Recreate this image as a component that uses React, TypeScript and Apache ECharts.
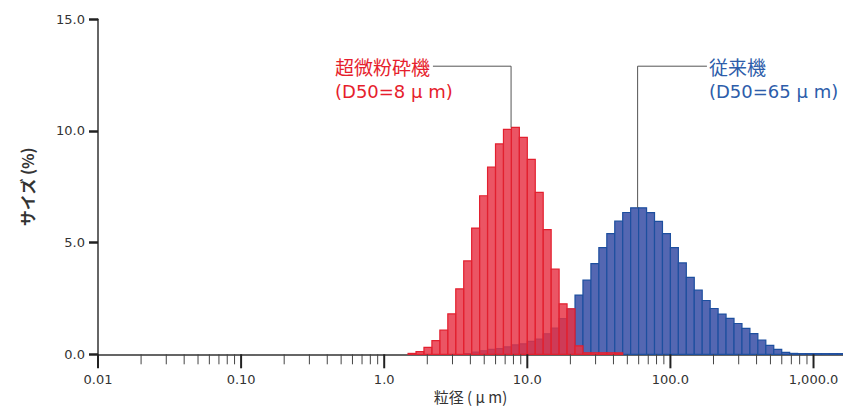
import React, { useEffect, useRef } from "react";
import * as echarts from "echarts";

// ---------------- data ----------------
// Particle-size channels: 18 log-spaced channels per decade;
// channel k spans 10^(k/18) … 10^((k+1)/18) µm.
const BINS_PER_DECADE = 18;

// 超微粉砕機 (ultra-fine mill) – frequency (%) per channel, starting at channel 3
const redFirstBin = 3;
const redValues = [
  0.04, 0.12, 0.31, 0.61, 1.08, 1.81, 2.93, 4.18, 5.65, 7.1, 8.38, 9.42, 10.07,
  10.16, 9.71, 8.73, 7.25, 5.58, 3.81, 2.26, 2.04, 0.38, 0.07, 0.07, 0.07, 0.07,
  0.06,
];

// 従来機 (conventional mill) – frequency (%) per channel, starting at channel 10
const blueFirstBin = 10;
const blueValues = [
  0.03, 0.1, 0.16, 0.22, 0.25, 0.33, 0.42, 0.47, 0.58, 0.68, 0.92, 1.17, 1.6,
  2.02, 2.65, 3.32, 4.06, 4.78, 5.4, 5.96, 6.35, 6.56, 6.56, 6.34, 5.95, 5.4,
  4.78, 4.09, 3.44, 2.87, 2.41, 2.05, 1.8, 1.61, 1.38, 1.16, 0.93, 0.64, 0.4,
  0.22, 0.09, 0.04, 0.03, 0.03, 0.03, 0.03, 0.03, 0.03,
];

const xMajorTicks = [0.01, 0.1, 1, 10, 100, 1000];
const xMajorLabels = ["0.01", "0.10", "1.0", "10.0", "100.0", "1,000.0"];
const xMinorTicks = [
  0.02, 0.03, 0.04, 0.05, 0.06, 0.07, 0.08, 0.09,
  0.2, 0.3, 0.4, 0.5, 0.6, 0.7, 0.8, 0.9,
  2, 3, 4, 5, 6, 7, 8, 9,
  20, 30, 40, 50, 60, 70, 80, 90,
  200, 300, 400, 500, 600, 700, 800, 900,
];
const xMin = 0.01;
const xMax = 1607;
const yMin = 0;
const yMax = 15;
const yInterval = 5;

const xAxisName = "粒径 ( μ m)";
const yAxisName = "サイズ (%)";

const annotTitles = ["超微粉砕機", "従来機"];
const annotD50 = ["(D50=8 μ m)", "(D50=65 μ m)"];

// ---------------- annotation anchors (axis units) ----------------
const annotLeaderUm = [7.7, 59];
const annotPeak = [Math.max(...redValues), Math.max(...blueValues)];
const annotElbow = [12.9, 12.9];
const annotLineEndUm = [2.19, 180];
const annotTextUm = [0.453, 186];

const RED_FILL = "rgba(231,50,69,0.83)";
const RED_STROKE = "#E2202F";
const BLUE_FILL = "#5467B2";
const BLUE_STROKE = "#1D4F9F";
const ANNOT_COLORS = ["#E61E2D", "#2D5DAA"];

const edge = (k: number) => Math.pow(10, k / BINS_PER_DECADE);

function barData(first: number, values: number[]) {
  return values.map((v, i) => [edge(first + i), edge(first + i + 1), v]);
}

function barRender(fill: string, stroke: string) {
  return (params: any, api: any) => {
    const lo = api.coord([api.value(0), 0]);
    const hi = api.coord([api.value(1), api.value(2)]);
    const cs = params.coordSys;
    const shape = echarts.graphic.clipRectByRect(
      { x: lo[0], y: hi[1], width: hi[0] - lo[0], height: lo[1] - hi[1] },
      { x: cs.x, y: cs.y, width: cs.width, height: cs.height }
    );
    if (!shape) return null;
    return {
      type: "rect",
      shape,
      style: { fill, stroke, lineWidth: 1.2 },
    };
  };
}

function tickRender(len: number, color: string, width: number) {
  return (_params: any, api: any) => {
    const p = api.coord([api.value(0), 0]);
    return {
      type: "line",
      shape: { x1: p[0], y1: p[1], x2: p[0], y2: p[1] + len },
      style: { stroke: color, lineWidth: width },
    };
  };
}

const CJK = "'Noto Sans CJK JP', 'Noto Sans', sans-serif";
const LATIN = "'DejaVu Sans', 'Noto Sans', sans-serif";

export default function App() {
  const ref = useRef<HTMLDivElement>(null);

  useEffect(() => {
    if (!ref.current) return;
    const chart = echarts.init(ref.current, null, { renderer: "svg" });

    const option: any = {
      animation: false,
      backgroundColor: "#ffffff",
      grid: {
        left: 98,
        right: 0,
        top: 19.3,
        bottom: 51.7,
        containLabel: false,
        outerBoundsMode: "none",
      },
      xAxis: {
        type: "log",
        logBase: 10,
        min: xMin,
        max: xMax,
        axisLine: { show: true, lineStyle: { color: "#333", width: 1.5 } },
        axisTick: { show: false },
        minorTick: { show: false },
        splitLine: { show: false },
        axisLabel: {
          interval: 0,
          margin: 19,
          fontSize: 13,
          color: "#333",
          fontFamily: LATIN,
          formatter: (v: number) => {
            for (let i = 0; i < xMajorTicks.length; i++) {
              if (Math.abs(v - xMajorTicks[i]) / xMajorTicks[i] < 1e-6) return xMajorLabels[i];
            }
            return "";
          },
        },
        name: xAxisName,
        nameLocation: "middle",
        nameGap: 35,
        nameMoveOverlap: false,
        nameTextStyle: { fontSize: 15, color: "#333", fontFamily: CJK },
      },
      yAxis: {
        type: "value",
        min: yMin,
        max: yMax,
        interval: yInterval,
        axisLine: { show: true, lineStyle: { color: "#333", width: 1.5 } },
        axisTick: { show: true, length: 9, lineStyle: { color: "#222", width: 2.5 } },
        splitLine: { show: false },
        axisLabel: {
          margin: 13,
          fontSize: 13,
          color: "#333",
          fontFamily: LATIN,
          formatter: (v: number) => v.toFixed(1),
        },
        name: yAxisName,
        nameLocation: "middle",
        nameGap: 63,
        nameMoveOverlap: false,
        nameTextStyle: { fontSize: 16, color: "#333", fontFamily: CJK, fontWeight: "bold" },
      },
      series: [
        {
          type: "custom",
          name: "従来機",
          silent: true,
          clip: false,
          z: 2,
          data: barData(blueFirstBin, blueValues),
          encode: { x: [0, 1], y: 2 },
          renderItem: barRender(BLUE_FILL, BLUE_STROKE),
        },
        {
          type: "custom",
          name: "超微粉砕機",
          silent: true,
          clip: false,
          z: 3,
          data: barData(redFirstBin, redValues),
          encode: { x: [0, 1], y: 2 },
          renderItem: barRender(RED_FILL, RED_STROKE),
        },
        {
          type: "custom",
          silent: true,
          clip: false,
          z: 5,
          data: xMinorTicks.map((v) => [v, 0]),
          encode: { x: 0, y: 1 },
          renderItem: tickRender(10, "#444", 1),
        },
        {
          type: "custom",
          silent: true,
          clip: false,
          z: 5,
          data: xMajorTicks.map((v) => [v, 0]),
          encode: { x: 0, y: 1 },
          renderItem: tickRender(14, "#222", 2),
        },
        {
          type: "custom",
          silent: true,
          clip: false,
          z: 6,
          data: annotTitles.map((_, i) => [
            annotLeaderUm[i],
            annotPeak[i],
            annotElbow[i],
            annotLineEndUm[i],
            annotTextUm[i],
          ]),
          encode: { x: 0, y: 1 },
          renderItem: (params: any, api: any) => {
            const i = params.dataIndex;
            const bottom = api.coord([api.value(0), api.value(1)]);
            const corner = api.coord([api.value(0), api.value(2)]);
            const start = api.coord([api.value(3), api.value(2)]);
            const txt = api.coord([api.value(4), api.value(2)]);
            const color = ANNOT_COLORS[i];
            return {
              type: "group",
              children: [
                {
                  type: "polyline",
                  shape: { points: [start, corner, bottom] },
                  style: { stroke: "#555", lineWidth: 1, fill: null },
                },
                {
                  type: "text",
                  x: txt[0],
                  y: txt[1],
                  style: {
                    text: annotTitles[i],
                    fill: color,
                    fontSize: 19,
                    fontFamily: CJK,
                    align: "left",
                    verticalAlign: "middle",
                  },
                },
                {
                  type: "text",
                  x: txt[0],
                  y: txt[1] + 25,
                  style: {
                    text: annotD50[i],
                    fill: color,
                    fontSize: 18,
                    fontFamily: LATIN,
                    align: "left",
                    verticalAlign: "middle",
                  },
                },
              ],
            };
          },
        },
      ],
    };

    chart.setOption(option);
    return () => chart.dispose();
  }, []);

  return (
    <div
      ref={ref}
      style={{ position: "fixed", left: 0, top: 0, width: 843, height: 406, background: "#fff" }}
    />
  );
}
